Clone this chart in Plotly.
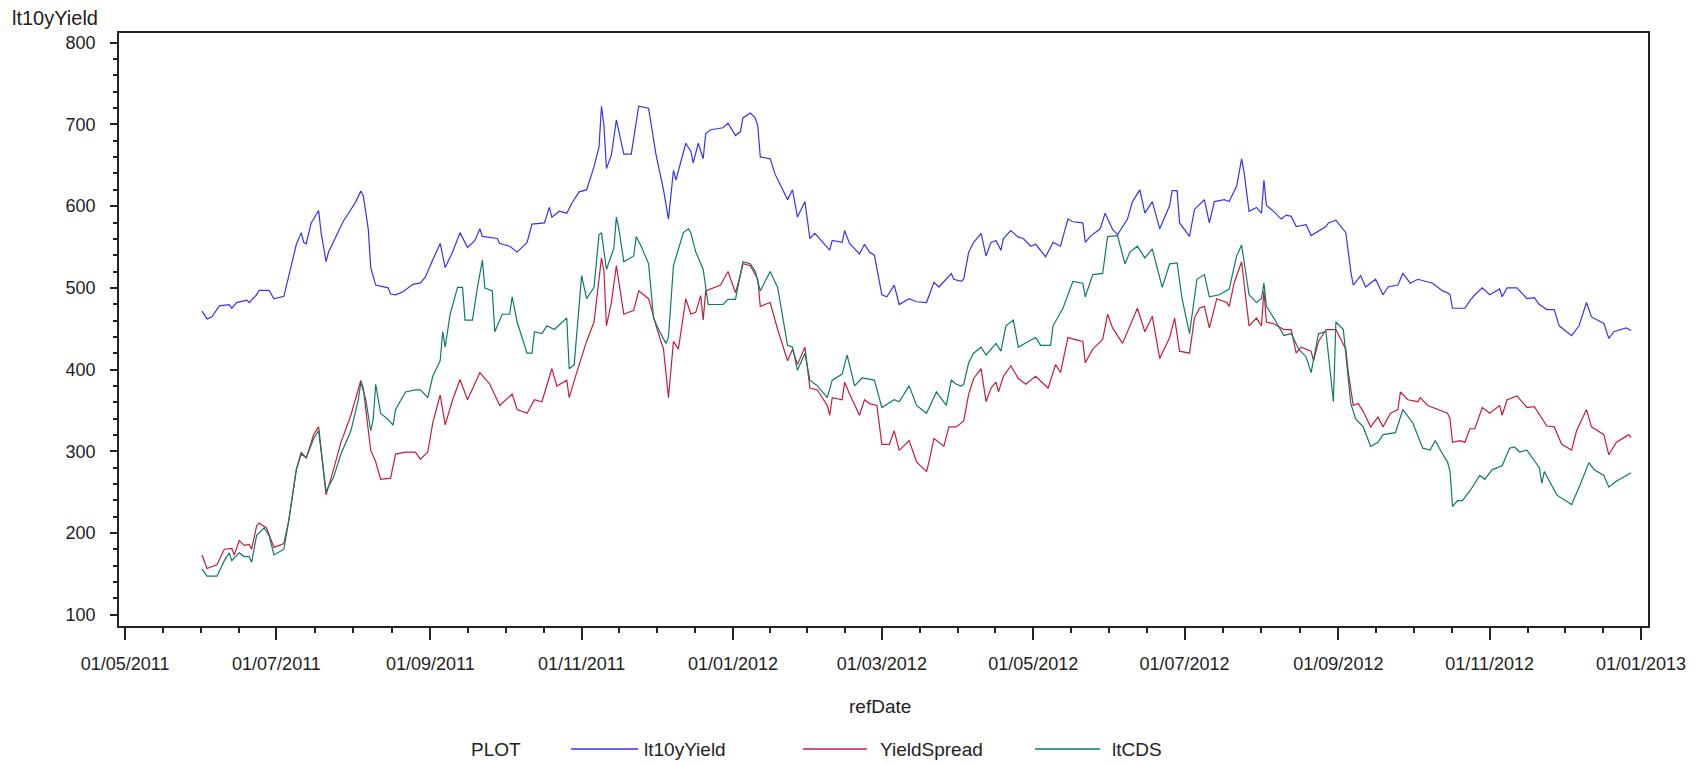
import pandas as pd
import plotly.graph_objects as go

# dates are kept as day counts from 01/05/2011
DAY0 = pd.Timestamp("2011-05-01")

yield_days = [31, 33, 35, 38, 42, 43, 45, 49, 50, 53, 54, 58, 60, 64, 66, 69, 71, 72, 73, 75,
              78, 79, 81, 82, 85, 88, 90, 93, 95, 96, 98, 99, 101, 104, 106, 107, 109, 112, 116,
              119, 121, 124, 127, 129, 132, 135, 138, 141, 143, 144, 150, 151, 155, 158, 162, 164, 169, 171, 172,
              175, 178, 180, 183, 186, 189, 191, 192, 193, 194, 196, 198, 201, 204, 207, 211, 214, 217, 219, 221,
              222, 226,
              228, 229, 231, 233, 234, 236, 241, 243, 246, 248, 249, 252, 254, 255, 256, 260, 262, 267, 269, 271,
              274, 275, 276, 278, 281, 284, 285, 289, 290, 292, 296, 298, 300, 302, 305, 307, 310, 312, 316, 319,
              323, 326, 328, 331, 333, 334,
              337, 338, 340, 342, 345, 347, 349, 351, 353, 354, 357, 360, 362, 365, 367, 371, 374, 377, 380, 382,
              386, 387, 389, 393, 395, 398, 400, 404, 406, 409, 411, 414, 417, 421, 422, 424, 425, 429, 431, 435,
              437, 439, 443,
              445, 448, 450, 451, 453, 456, 458, 459, 460, 462, 466, 468, 470, 472, 476, 478, 484, 485, 488, 492,
              494, 495, 498, 500, 504, 507, 509, 513, 515, 518, 521, 527, 531, 533,
              534, 535, 540, 542, 544, 547, 550, 554, 555, 557, 561, 565, 568, 570, 573, 576, 578, 583, 586, 589,
              591, 596, 598, 600, 605, 607]
yield_vals = [471.5, 462, 464.5, 478, 479.5, 475, 482, 485, 482, 491.5, 497, 497, 486.7, 489.6, 515, 553, 567.6, 555.7, 554, 579.5,
              594.7, 567.6, 532, 543.8, 562.8, 581.8, 591, 605.6, 618.5, 612.8, 572.3, 524.8, 503.4, 501, 500, 492.4, 491.5, 495.3, 504.3,
              506, 513, 534.3, 554.3, 524.8, 543.8, 567.6, 549.5, 558, 572.3, 563, 560.4, 554.3, 551, 543.8, 555.7, 578, 579.5, 598.5, 586.6,
              593.8, 591.4, 603.2, 617.5, 619.9, 648.4, 672.2, 722.3, 698.4, 646, 662.7, 705.5, 663.7, 663.7, 722.3, 720, 662.7, 619.9, 584.2, 643.7,
              632, 677,
              667.4, 653, 677, 658, 689, 693.6, 696, 701.7, 686.5, 691.3, 708, 714, 708, 698.4, 660.3, 658, 638.9, 608, 620, 586.6,
              605.6, 582, 560.4, 566.6, 555.7, 546.2, 558, 555.7, 570, 554.3, 541.4, 553.3, 543.8, 540, 491.5, 489, 503.4, 479.6, 486.7, 483,
              482, 506.7, 501, 510.5, 517.6, 510.5,
              508, 510.5, 543.8, 555.7, 566.6, 539, 555.7, 558, 546, 560.4, 570, 562, 560.4, 551, 553.3, 538, 555.7, 551, 584.2, 580.9,
              579.5, 555.7, 563, 572.3, 591.4, 571.4, 565.2, 584.2, 605.6, 620, 591.4, 605.6, 572.3, 600.8, 618.9, 618.9, 579.5, 563, 596, 607.9,
              579.5, 605.6, 607.9,
              605.6, 624.7, 658, 641.3, 593.8, 598.5, 591.4, 631.8, 600.8, 596, 584.2, 589, 587.5, 575, 577.3, 564, 575, 579.5, 582.8, 567.6,
              520, 503.4, 515, 501, 510.5, 491.5, 501, 503.4, 517.6, 505.7, 510.5, 505.7, 496.3, 494,
              491.5, 475, 475, 484.4, 491.5, 500, 491.5, 498.6, 489, 500, 500, 486.7, 488, 479.6, 473.4, 473.4, 453.5, 441.5, 453.5, 482,
              464.4, 456.4, 438.2, 446.3, 451, 447.7]

spread_days = [31, 33, 37, 40, 43, 44, 46, 48, 50, 51, 53, 54, 57, 60, 64, 66, 69, 71, 73, 76,
               78, 81, 84, 87, 91, 95, 96, 99, 101, 103, 107, 109, 113, 117,
               119, 122, 124, 127, 129, 132, 135, 138, 143, 147, 151, 156, 158, 162, 165, 168, 172, 174, 178, 179,
               182, 185, 186, 189, 191, 192, 193, 194, 196, 198, 201, 205, 207, 211, 214, 217, 219, 221, 223, 226,
               228, 230, 232, 233, 234, 240, 243, 246, 248, 249, 252, 255, 256, 260, 263, 267, 269, 271, 274, 275,
               276, 279, 283, 284, 285, 289, 290, 292, 296, 298, 300, 303, 305, 308, 310, 312, 316, 319, 323, 324,
               326, 330, 332, 335,
               338, 340, 342, 345, 347, 349, 351, 352, 354, 357, 360, 363, 367, 372, 375, 377, 380, 383, 386, 387,
               390, 394, 396, 398, 402, 408, 411, 414, 417, 421, 423, 425, 429, 431, 433, 435, 437, 440, 444,
               445, 447, 450, 453, 456, 458, 459, 460, 463, 467, 470, 472, 474, 478, 479, 481, 484, 488, 492, 493,
               495, 497, 499, 502, 505, 507, 510, 513, 514, 517, 521, 522, 525, 529, 533,
               534, 535, 538, 540, 542, 544, 547, 550, 554, 555, 557, 561, 565, 568, 573, 576, 579, 583, 585, 589,
               591, 596, 598, 601, 606, 607]
spread_vals = [173, 156.3, 161, 180, 181, 173, 190.5, 184.7, 186, 180, 208.5, 212, 206, 182.2, 187, 215.6, 277.5, 298.9, 291.4, 320.3,
               329.8, 246.5, 277.5, 310.8, 344, 386.8, 377, 301, 287, 265.6, 267, 296.5, 298.9, 298.9,
               290, 299, 334.6, 368.8, 332.2, 363, 387.8, 363, 396.3, 382, 355.9, 370, 351, 346.4, 363, 360.6, 401, 379.7, 387, 365.5,
               396.3, 424.9, 434.4, 458.2, 510.5, 536.7, 520, 453.5, 482, 527.2, 467.7, 472.5, 496.3, 486.7, 453.5, 424.9, 365.5, 434.4, 424.9, 486.7,
               468, 470, 490.5, 460.6, 496.3, 503.4, 520, 494, 515.5, 529.5, 527, 510.5, 477.3, 482, 449, 410.8, 424.9, 406, 427.3, 399,
               377.3, 375, 355.9, 344, 365.5, 363, 384.5, 370, 344, 363, 358.3, 356, 308.4, 308.4, 325, 301, 313, 287, 275, 287,
               315.6, 306, 329.8, 329.8,
               337, 370, 389, 401, 360.6, 377.3, 384.5, 372.6, 391.7, 404.6, 389, 382, 391.7, 377.3, 406, 396.3, 439.1, 436.7, 434.4, 408.2,
               424.9, 436.7, 467.7, 451, 432, 475, 446.3, 465.3, 413.4, 439.1, 462.9, 422.5, 420, 462.9, 475, 477.3, 451, 486.7, 482,
               477.3, 506, 531.9, 453.5, 463, 453.5, 496.3, 458.2, 456, 448.9, 448.9, 420, 427.3, 422.5, 410.8, 434.4, 448.9, 448.9, 424.9, 396.3,
               356, 358.3, 348.8, 329.8, 341.7, 329.8, 346.4, 351, 372.5, 363, 360.6, 365.5, 356, 351, 346.4,
               339.4, 310.8, 313, 310.8, 327.5, 327.5, 353.5, 346.4, 356, 344, 363, 367.7, 353.5, 354.5, 330.8, 329.8, 308.4, 301.3, 325, 351,
               329.8, 320.3, 295.6, 310.8, 320.3, 316.5]

cds_days = [31, 33, 37, 40, 42, 43, 46, 48, 50, 51, 53, 56, 58, 60, 64, 66, 69, 71, 73, 76,
            78, 81, 84, 87, 91, 94, 95, 97, 99, 100, 101, 103, 106, 108, 109, 113, 117,
            119, 122, 124, 127, 128, 129, 131, 134, 136, 137, 140, 142, 144, 145, 148, 149, 152, 155, 156, 158,
            162, 164, 165, 168, 170, 173, 178, 179, 181, 184, 186, 189, 191, 192, 194, 197, 198, 199, 201, 205,
            206, 208, 211, 213, 215, 218, 219, 221, 225, 227,
            228, 230, 233, 235, 241, 243, 246, 249, 252, 254, 256, 260, 263, 267, 269, 271, 274, 276, 279, 283,
            285, 289, 291, 294, 297, 302, 305, 310, 312, 316, 319, 323, 327, 331, 333, 335,
            337, 338, 340, 342, 345, 347, 351, 353, 355, 358, 360, 364, 367, 369, 373, 374, 378, 382, 386, 387,
            390, 394, 396, 400, 403, 405, 408, 411, 414, 418, 421, 424, 426, 429, 432, 435, 437, 441, 444,
            445, 448, 450, 453, 456, 458, 459, 460, 463, 467, 470, 473, 476, 478, 481, 484, 486, 487, 488, 491,
            494, 496, 499, 502, 505, 507, 512, 515, 519, 523, 526, 528, 531, 533,
            534, 535, 537, 539, 542, 546, 548, 551, 555, 558, 560, 562, 565, 570, 571, 572, 577, 583, 586, 590,
            592, 596, 598, 601, 607]
cds_vals = [156, 147, 147, 166, 175.5, 166, 175.5, 171, 171, 164, 197, 206, 197, 173, 180, 215.6, 277.5, 296.5, 291.8, 315.6,
            325, 251, 268, 296.5, 325, 363, 384.5, 363, 325, 339, 382, 346.3, 339, 332, 351, 372.5, 375,
            375, 365.5, 391.7, 410.8, 446.3, 427.3, 467.7, 500.6, 500.6, 460.6, 460.6, 500.6, 534, 499.6, 496.3, 446.3, 467.7, 467.7, 489.1, 458.2,
            420, 420, 446.3, 444, 453.5, 449, 463, 401, 406, 515, 486.7, 500.6, 565, 567.6, 522.5, 548.6, 586.6, 572.3, 532, 539,
            562.8, 550.9, 529.4, 463, 449, 432, 439.6, 527.2, 567.6, 572.3,
            567.6, 543.8, 522.5, 479.6, 479.6, 485.8, 485.8, 532, 529.4, 520, 496.3, 520, 500.6, 429.6, 427.3, 399, 420, 387, 380, 365.5,
            387, 394.4, 418, 380, 389.6, 387, 353.5, 363, 360.6, 380, 356, 346.4, 372.5, 356, 387, 382,
            379.7, 382, 408.2, 420, 427.3, 417.8, 432, 422.5, 453.5, 460.6, 427.3, 434.4, 439.1, 429.6, 429.6, 453.5, 475, 508, 505.7, 489,
            516.2, 517.6, 562.8, 563.8, 529.4, 543.8, 551, 536.7, 547.6, 500.6, 529.4, 530.5, 486.7, 444, 510.5, 516.2, 489, 491.5, 496.3,
            498.6, 539, 552.4, 491.5, 482, 486.7, 505.7, 477.3, 463, 441.5, 444, 424.9, 415.4, 396.3, 444, 446.3, 384.5, 360.6, 458.2, 448.9,
            358.3, 339.4, 329.8, 306, 310.8, 320.3, 322.7, 351, 334.6, 303.7, 301.3, 313.1, 296.5, 287,
            275.1, 232.3, 239.4, 239.4, 251.3, 270.3, 265.6, 277.5, 282.2, 303.7, 305.2, 299, 301.3, 279.8, 260.8, 275.1, 246.5, 234.6, 256, 286,
            277.5, 270.3, 256, 263.2, 273.6]

x_ticks = ["2011-05-01", "2011-07-01", "2011-09-01", "2011-11-01", "2012-01-01", "2012-03-01",
           "2012-05-01", "2012-07-01", "2012-09-01", "2012-11-01", "2013-01-01"]
y_ticks = [100, 200, 300, 400, 500, 600, 700, 800]

series = [
    ("lt10yYield", yield_days, yield_vals, "#3434F2"),
    ("YieldSpread", spread_days, spread_vals, "#C41E3A"),
    ("ltCDS", cds_days, cds_vals, "#0E7A6A"),
]

W, H = 1697, 765
L, R, T, B = 119, 49, 33, 139
PW, PH = W - L - R, H - T - B
FONT = "Liberation Sans, Arial, sans-serif"
TEXT = dict(family=FONT, size=19, color="#222")


def px(x):
    return (x - L) / PW


def py(y):
    return (H - B - y) / PH


fig = go.Figure()
for name, days, vals, color in series:
    fig.add_trace(go.Scatter(
        x=DAY0 + pd.to_timedelta(days, unit="D"),
        y=vals,
        mode="lines",
        name=name,
        line=dict(color=color, width=1.2),
        showlegend=False,
    ))

# minor ticks: three between each pair of labelled dates
tv = pd.to_datetime(x_ticks)
minor_x = []
for a, b in zip(tv[:-1], tv[1:]):
    for k in (1, 2, 3):
        minor_x.append(a + (b - a) * k / 4)

fig.update_xaxes(
    range=["2011-04-28 13:00", "2013-01-03 19:00"],
    tickvals=x_ticks,
    tickformat="%d/%m/%Y",
    ticks="outside", ticklen=12, tickwidth=1.5, tickcolor="#222",
    minor=dict(tickvals=minor_x, ticks="outside", ticklen=5, tickwidth=1.5, tickcolor="#222"),
    showline=True, linecolor="#222", linewidth=1.8, mirror=True,
    showgrid=False, zeroline=False,
    ticklabelstandoff=8,
)
fig.update_yaxes(
    range=[86, 812],
    tickvals=y_ticks,
    ticks="outside", ticklen=7, tickwidth=1.5, tickcolor="#222",
    minor=dict(dtick=20, ticks="outside", ticklen=4, tickwidth=1.5, tickcolor="#222"),
    showline=True, linecolor="#222", linewidth=1.8, mirror=True,
    showgrid=False, zeroline=False,
    ticklabelstandoff=11,
)

# axis titles placed as in the original output
fig.add_annotation(text="lt10yYield", xref="paper", yref="paper", x=px(10), y=py(18),
                   xanchor="left", yanchor="middle", showarrow=False, font=dict(TEXT, size=20))
fig.add_annotation(text="refDate", xref="paper", yref="paper", x=px(880), y=py(706),
                   xanchor="center", yanchor="middle", showarrow=False, font=TEXT)

# legend row drawn by hand so the line samples are as long as the original
fig.add_annotation(text="PLOT", xref="paper", yref="paper", x=px(469), y=py(749),
                   xanchor="left", yanchor="middle", showarrow=False, font=TEXT)
legend_pos = [(571, 638, 642), (803, 867, 878), (1035, 1100, 1110)]
for (name, _, _, color), (x0, x1, xt) in zip(series, legend_pos):
    fig.add_shape(type="line", xref="paper", yref="paper", x0=px(x0), x1=px(x1),
                  y0=py(749), y1=py(749), line=dict(color=color, width=1.5))
    fig.add_annotation(text=name, xref="paper", yref="paper", x=px(xt), y=py(749),
                       xanchor="left", yanchor="middle", showarrow=False, font=TEXT)

fig.update_layout(
    width=W, height=H, autosize=False,
    margin=dict(l=L, r=R, t=T, b=B),
    plot_bgcolor="white", paper_bgcolor="white",
    font=dict(family=FONT, size=18, color="#222"),
    showlegend=False,
)

# drop the browser's default 8px body margin so the figure sits at 0,0
fig.write_html("out.html", config={"displayModeBar": False},
               post_script="document.body.style.margin='0';")
